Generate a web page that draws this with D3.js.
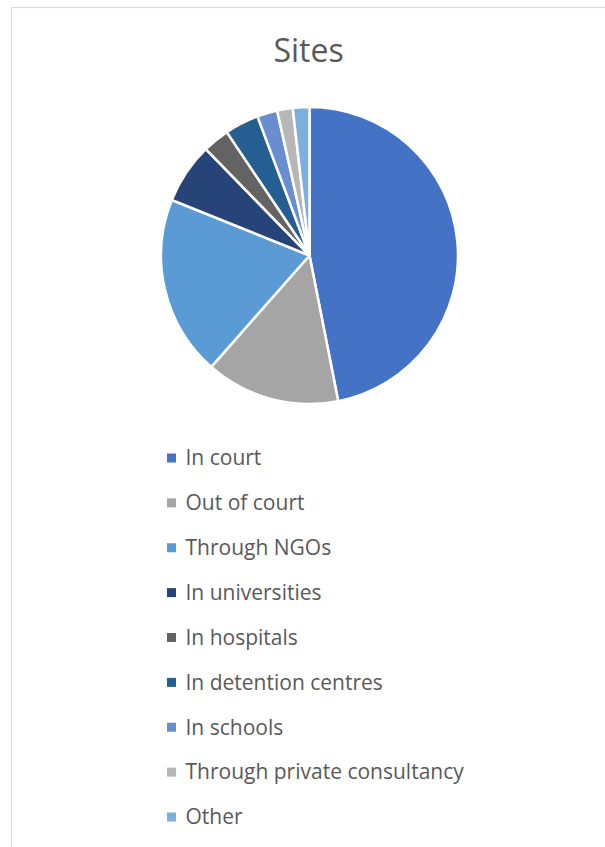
<!DOCTYPE html>
<html>
<head>
<meta charset="utf-8">
<script src="https://cdn.jsdelivr.net/npm/d3@7"></script>
<style>
  body { margin: 0; background: #fff; }
  svg { display: block; }
</style>
</head>
<body>
<div id="chart"></div>
<script>
// data (share of responses, %)
const categories = ['In court', 'Out of court', 'Through NGOs', 'In universities', 'In hospitals',
  'In detention centres', 'In schools', 'Through private consultancy', 'Other'];
const values = [46.9, 14.6, 19.6, 6.6, 2.9, 3.7, 2.2, 1.7, 1.8];
const colors = ['#4472C4', '#A5A5A5', '#5B9BD5', '#264478', '#636363',
  '#255E91', '#698ED0', '#B7B7B7', '#7CAFDD'];
const title = 'Sites';

const width = 605, height = 847;
const cx = 309.5, cy = 255.5, radius = 148.5;

const svg = d3.select('#chart').append('svg')
  .attr('width', width)
  .attr('height', height);

// chart area border (only top and left visible in the crop)
svg.append('rect')
  .attr('x', 11.5).attr('y', 7.5)
  .attr('width', width + 20).attr('height', height + 20)
  .attr('fill', '#fff')
  .attr('stroke', '#d9d9d9')
  .attr('stroke-width', 1.2);

svg.append('text')
  .attr('x', 308.5).attr('y', 62)
  .attr('text-anchor', 'middle')
  .attr('font-family', 'Open Sans, sans-serif')
  .attr('font-size', 32)
  .attr('fill', '#595959')
  .text(title);

const color = d3.scaleOrdinal().domain(categories).range(colors);

const pie = d3.pie().sort(null).value(d => d.value);
const arc = d3.arc().innerRadius(0).outerRadius(radius);
const rows = categories.map((c, i) => ({ name: c, value: values[i] }));

svg.append('g')
  .attr('transform', `translate(${cx},${cy})`)
  .selectAll('path')
  .data(pie(rows))
  .join('path')
  .attr('d', arc)
  .attr('fill', d => color(d.data.name))
  .attr('stroke', '#fff')
  .attr('stroke-width', 2.5)
  .attr('stroke-linejoin', 'round');

// legend
const legendY = d3.scalePoint().domain(categories).range([458, 817]);

const legend = svg.append('g')
  .selectAll('g')
  .data(categories)
  .join('g')
  .attr('transform', d => `translate(167,${legendY(d)})`);

legend.append('rect')
  .attr('x', 0).attr('y', -4.5)
  .attr('width', 9).attr('height', 9)
  .attr('fill', d => color(d));

legend.append('text')
  .attr('x', 18.5).attr('y', 0)
  .attr('dy', '0.35em')
  .attr('font-family', 'Open Sans, sans-serif')
  .attr('font-size', 21)
  .attr('fill', '#595959')
  .text(d => d);
</script>
</body>
</html>
